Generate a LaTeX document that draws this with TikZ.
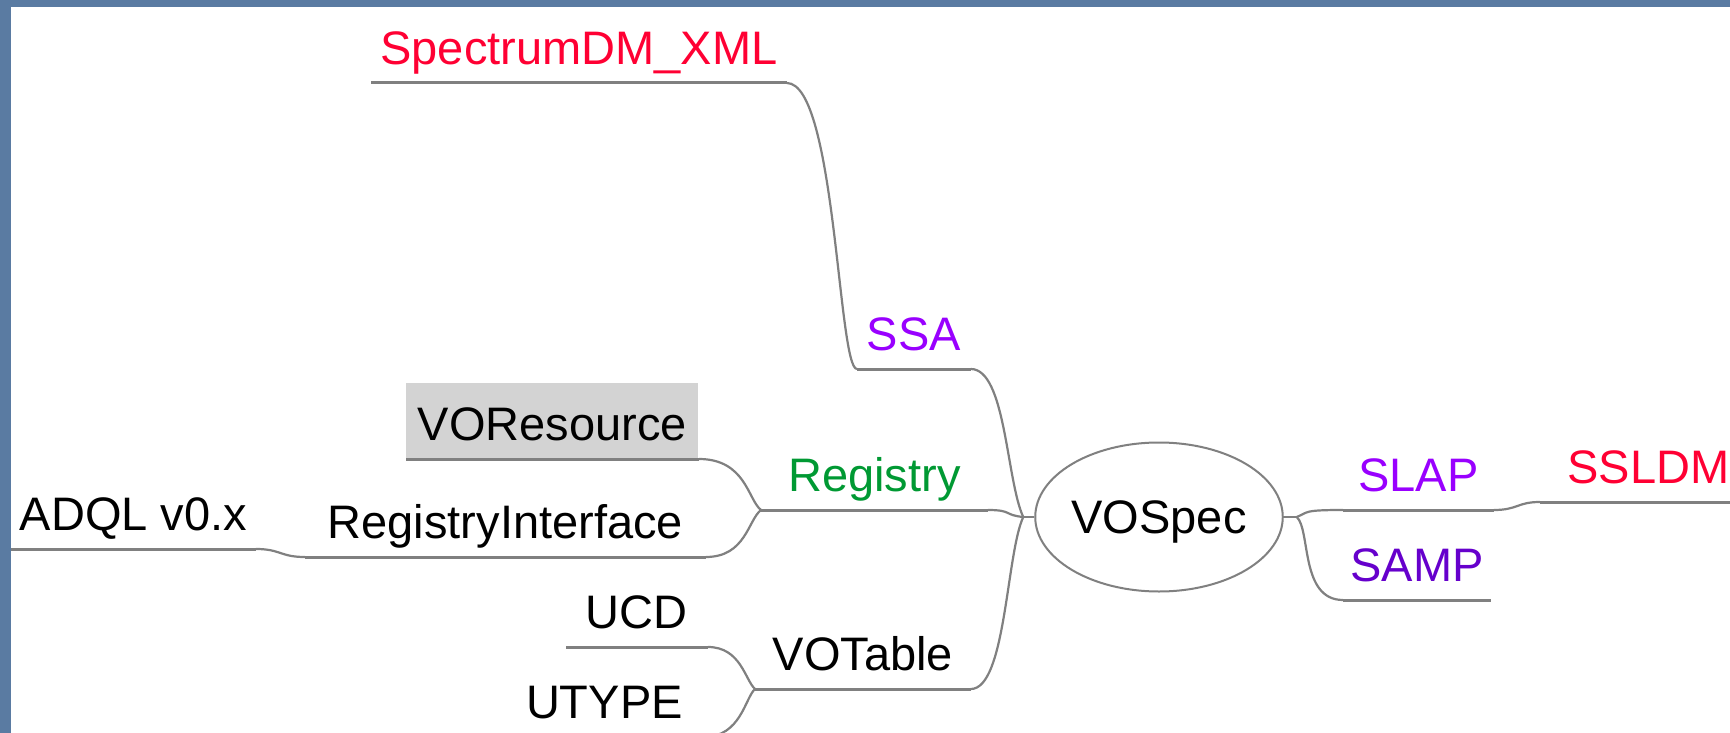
\documentclass[tikz,border=0pt]{standalone}
\usepackage{fontspec}
\newfontfamily\mapfont{Liberation Sans}
\usetikzlibrary{positioning}
\usetikzlibrary{shapes.geometric}
\definecolor{frameblue}{HTML}{5A7BA2}
\definecolor{linegray}{HTML}{808080}
\definecolor{specred}{HTML}{FF0033}
\definecolor{protopurple}{HTML}{9900FF}
\definecolor{sampviolet}{HTML}{6600CC}
\definecolor{reggreen}{HTML}{009933}
\definecolor{boxgray}{HTML}{D3D3D3}
\tikzset{
	% topic: text sitting on its own underline
	topic/.style={anchor=south west,inner xsep=0pt,inner ysep=0pt,
		text height=29pt,text depth=9pt,
		font=\mapfont\fontsize{23.5pt}{28pt}\selectfont},
	% lines
	uline/.style={draw=linegray,line width=1.5pt},
	branch/.style={draw=linegray,line width=1.1pt},
}

\begin{document}
\begin{tikzpicture}[x=0.5pt,y=-0.5pt]
	\useasboundingbox (0,0) rectangle (1730,733);
	\clip (0,0) rectangle (1730,733);
	\fill[frameblue] (0,0) rectangle (1730,733);
	\fill[white] (11,7) rectangle (1730,733);
	
	% centre
	\node[ellipse,draw=linegray,line width=1pt,minimum width=111pt,minimum height=74.5pt,
		inner sep=0pt,text height=16.8pt,text depth=0pt,
		font=\mapfont\fontsize{23.5pt}{28pt}\selectfont] (vospec) at (1159,517) {VOSpec};
	\coordinate[left=5.5pt of vospec] (jl);
	\coordinate[right=6.5pt of vospec] (jr);
	
	% left side
	\node[topic,text=specred,minimum width=207.5pt] (spec) at (371,83) {SpectrumDM\_XML};
	\node[topic,text=protopurple,minimum width=56.5pt] (ssa) at (857,369) {SSA};
	\node[topic,fill=boxgray,minimum width=146pt] (vores) at (406,459) {VOResource};
	\node[topic,minimum width=200pt] (regint) at (305,557) {RegistryInterface};
	\node[topic,minimum width=122pt] (adql) at (11,549) {ADQL v0.x};
	\node[topic,text=reggreen,minimum width=113pt] (registry) at (761,510) {Registry};
	\node[topic,minimum width=70.5pt] (ucd) at (566,647) {UCD};
	\node[topic,minimum width=99pt] (utype) at (505,737) {UTYPE};
	\node[topic,minimum width=107.5pt] (votable) at (755,689) {VOTable};
	
	% right side
	\node[topic,text=protopurple,minimum width=75pt] (slap) at (1343,510) {SLAP};
	\node[topic,text=sampviolet,minimum width=73.5pt] (samp) at (1343,600) {SAMP};
	\node[topic,text=specred,minimum width=108pt] (ssldm) at (1540,502) {SSLDM};
	
	\foreach \n in {spec,ssa,vores,regint,adql,registry,ucd,utype,votable,slap,samp,ssldm}
		\draw[uline] (\n.south west) -- (\n.south east);
	
	% branches
	\draw[branch] (jl) -- (vospec.west);
	\draw[branch] (vospec.east) -- (jr);
	\draw[branch] (spec.south east) .. controls +(49,0) and +(-19,0) .. (ssa.south west);
	\draw[branch] (ssa.south east) .. controls +(35,0) and +(-17,-37) .. (jl);
	\draw[branch] (registry.south east) .. controls +(25,0) and +(-20,-2) .. (jl);
	\draw[branch] (votable.south east) .. controls +(35,0) and +(-17,37) .. (jl);
	\draw[branch] (vores.south east) .. controls +(47,0) and +(-13,-10) .. (registry.south west);
	\draw[branch] (regint.south east) .. controls +(40,0) and +(-13,10) .. (registry.south west);
	\draw[branch] (adql.south east) .. controls +(25,0) and +(-25,0) .. (regint.south west);
	\draw[branch] (ucd.south east) .. controls +(33,0) and +(-10,-9) .. (votable.south west);
	\draw[branch] (utype.south east) .. controls +(37,0) and +(-10,9) .. (votable.south west);
	\draw[branch] (jr) .. controls +(12,-5) and +(-40,0) .. (slap.south west);
	\draw[branch] (jr) .. controls +(14,13) and +(-43,0) .. (samp.south west);
	\draw[branch] (slap.south east) .. controls +(24,0) and +(-23,0) .. (ssldm.south west);
	
\end{tikzpicture}
\end{document}
